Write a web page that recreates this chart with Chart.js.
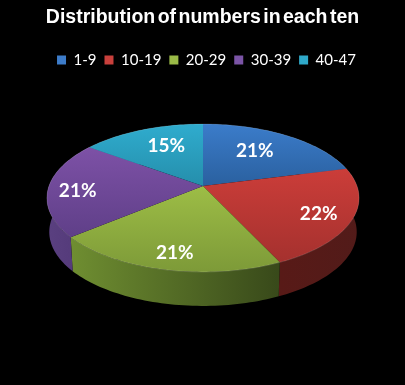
<!DOCTYPE html>
<html>
<head>
<style>
	html, body { margin: 0; padding: 0; background: #000; }
	#box { width: 405px; height: 385px; }
</style>
</head>
<body>
<div id="box"><canvas id="myChart" width="405" height="385"></canvas></div>
<script src="https://cdn.jsdelivr.net/npm/chart.js@4"></script>
<script>
const titleText = 'Distribution of numbers in each ten';
const categories = ['1-9', '10-19', '20-29', '30-39', '40-47'];
const values = [21, 22, 21, 21, 15];
const legendColors = ['#3d7cc9', '#c9403c', '#9aba47', '#7b54a6', '#2fa9c9'];
const topLight = ['#3b7cca', '#cb3d39', '#9dbd46', '#7d51a6', '#2facce'];
const topDark = ['#2a609f', '#a5312e', '#7d9a38', '#5f3f88', '#258eab'];
const wallLeft = ['#24507f', '#581a17', '#6f8e31', '#5a4080', '#1d7087'];
const wallRight = ['#24507f', '#521b19', '#38491a', '#523878', '#1d7087'];
const labelShift = [[-12, 3], [7, 4], [0, 8], [-11, 3], [10, 3]];

// the tilted disc: a circle point (u, v) seen in perspective
const cx = 203, cy = 186, rx = 154, ry = 72, tilt = 0.162, depth = 34, baseShrink = 0.985;
function project(u, v) {
	const w = 1 - tilt * v;
	return [cx + rx * u / w, cy + ry * v / w];
}
function rimPoints(start, end) {
	const pts = [];
	const n = Math.max(8, Math.ceil((end - start) * 40));
	for (let i = 0; i <= n; i++) {
		const a = start + (end - start) * i / n;
		pts.push(project(Math.cos(a), Math.sin(a)));
	}
	return pts;
}

const tiltedPie = {
	id: 'tiltedPie',
	afterLayout(chart) {
		// legend row sits a little right of centre in the reference
		chart.legend.left += 4;
		chart.legend.right += 4;
	},
	beforeDraw(chart) {
		// the reference title has tight gaps between its words
		chart.ctx.wordSpacing = '-3px';
	},
	beforeDatasetsDraw(chart) {
		const ctx = chart.ctx;
		ctx.wordSpacing = '0px';
		const arcs = chart.getDatasetMeta(0).data;
		// side wall first, the top then covers the back part
		arcs.forEach((arc, i) => {
			const pts = rimPoints(arc.startAngle, arc.endAngle);
			const xs = pts.map(p => p[0]);
			const g = ctx.createLinearGradient(Math.min(...xs), 0, Math.max(...xs), 0);
			g.addColorStop(0, wallLeft[i]);
			g.addColorStop(1, wallRight[i]);
			ctx.beginPath();
			pts.forEach((p, k) => k ? ctx.lineTo(p[0], p[1]) : ctx.moveTo(p[0], p[1]));
			pts.slice().reverse().forEach(p => ctx.lineTo(cx + (p[0] - cx) * baseShrink, p[1] + depth));
			ctx.closePath();
			ctx.fillStyle = g;
			ctx.fill();
		});
		arcs.forEach((arc, i) => {
			const pts = rimPoints(arc.startAngle, arc.endAngle);
			const ys = pts.map(p => p[1]).concat(cy);
			const g = ctx.createLinearGradient(0, Math.min(...ys), 0, Math.max(...ys));
			g.addColorStop(0, topLight[i]);
			g.addColorStop(1, topDark[i]);
			ctx.beginPath();
			ctx.moveTo(cx, cy);
			pts.forEach(p => ctx.lineTo(p[0], p[1]));
			ctx.closePath();
			ctx.fillStyle = g;
			ctx.fill();
			// soft highlight along the rim
			ctx.beginPath();
			pts.forEach((p, k) => k ? ctx.lineTo(p[0], p[1]) : ctx.moveTo(p[0], p[1]));
			ctx.strokeStyle = 'rgba(255,255,255,0.14)';
			ctx.lineWidth = 1;
			ctx.stroke();
		});
		// value labels
		ctx.fillStyle = '#fff';
		ctx.font = 'bold 19px Lato';
		ctx.textAlign = 'center';
		ctx.textBaseline = 'middle';
		arcs.forEach((arc, i) => {
			const mid = (arc.startAngle + arc.endAngle) / 2;
			const p = project(0.74 * Math.cos(mid), 0.74 * Math.sin(mid));
			ctx.fillText(values[i] + '%', p[0] + labelShift[i][0], p[1] + labelShift[i][1]);
		});
		return false;
	}
};

new Chart(document.getElementById('myChart'), {
	type: 'pie',
	data: {
		labels: categories,
		datasets: [{ data: values, backgroundColor: legendColors, borderWidth: 0 }]
	},
	options: {
		responsive: false,
		animation: false,
		layout: { padding: { top: 3 } },
		plugins: {
			tooltip: { enabled: false },
			title: {
				display: true,
				text: titleText,
				color: '#fff',
				font: { family: 'Liberation Sans', size: 19.5, weight: 'bold' },
				padding: { top: 3, bottom: 15 }
			},
			legend: {
				position: 'top',
				labels: {
					color: '#fff',
					font: { family: 'Lato', size: 15 },
					boxWidth: 9,
					boxHeight: 9,
					padding: 8
				}
			}
		}
	},
	plugins: [tiltedPie]
});
</script>
</body>
</html>
